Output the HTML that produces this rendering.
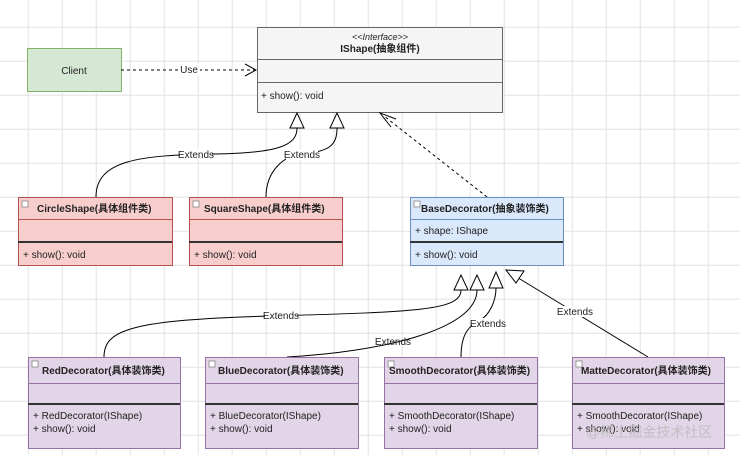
<!DOCTYPE html>
<html><head><meta charset="utf-8"><style>
html,body{margin:0;padding:0;background:#fff}
svg{display:block}
text{font-family:"Liberation Sans","Noto Sans CJK SC",sans-serif;font-size:10px;fill:#222}
.b{font-weight:bold}
</style></head><body>
<svg width="740" height="455" viewBox="0 0 740 455" xmlns="http://www.w3.org/2000/svg">
<defs>
<pattern id="g" x="27.7" y="26.7" width="34" height="34" patternUnits="userSpaceOnUse">
<path d="M0.5 0V34M0 0.5H34" stroke="#e2e2e2" stroke-width="1" fill="none"/>
</pattern>
</defs>
<rect width="740" height="455" fill="#fff"/>
<rect width="740" height="455" fill="url(#g)"/>

<!-- Client -->
<rect x="27.5" y="48.5" width="94" height="43" fill="#d5e8d4" stroke="#82b366"/>
<text x="74" y="74" text-anchor="middle">Client</text>
<line x1="121" y1="70" x2="255" y2="70" stroke="#000" stroke-dasharray="3,3"/>
<polyline points="245,64 256,70 245,76" fill="none" stroke="#000"/>
<rect x="178" y="64" width="22" height="11" fill="#fff"/>
<text x="189" y="73" text-anchor="middle">Use</text>

<!-- IShape -->
<rect x="257.5" y="27.5" width="245" height="85" fill="#f5f5f5" stroke="#666"/>
<text x="380" y="40" text-anchor="middle" font-style="italic" style="font-size:9px">&lt;&lt;Interface&gt;&gt;</text>
<text x="380" y="52" text-anchor="middle" class="b">IShape(抽象组件)</text>
<line x1="257" y1="59.5" x2="502" y2="59.5" stroke="#666"/>
<line x1="257" y1="82.5" x2="502" y2="82.5" stroke="#666"/>
<text x="261" y="99">+ show(): void</text>

<!-- connectors to IShape -->
<path d="M96 197 C96 160,140 155,215 154 C280 153,297 145,297 128" fill="none" stroke="#000"/>
<polygon points="297,113 290,128 304,128" fill="#fff" stroke="#000"/>
<path d="M266 197 C266 170,285 156,300 154 C330 152,337 145,337 128" fill="none" stroke="#000"/>
<polygon points="337,113 330,128 344,128" fill="#fff" stroke="#000"/>
<rect x="180" y="149" width="32" height="11" fill="#fff"/>
<text x="196" y="158" text-anchor="middle">Extends</text>
<rect x="286" y="149" width="32" height="11" fill="#fff"/>
<text x="302" y="158" text-anchor="middle">Extends</text>
<line x1="487" y1="197" x2="384" y2="116" stroke="#000" stroke-dasharray="3,3"/>
<polyline points="391,127 380,113 396,119" fill="none" stroke="#000"/>

<!-- CircleShape -->
<g>
<rect x="18.5" y="197.5" width="154" height="68" fill="#f8cecc" stroke="#b85450"/>
<rect x="22" y="201" width="6" height="6" fill="#fff" stroke="#888" stroke-width="0.8"/>
<text x="37" y="212" class="b">CircleShape(具体组件类)</text>
<line x1="18" y1="219.5" x2="172" y2="219.5" stroke="#b85450"/>
<line x1="18" y1="242" x2="172" y2="242" stroke="#333" stroke-width="2"/>
<text x="23" y="258">+ show(): void</text>
</g>
<g>
<rect x="189.5" y="197.5" width="153" height="68" fill="#f8cecc" stroke="#b85450"/>
<rect x="193" y="201" width="6" height="6" fill="#fff" stroke="#888" stroke-width="0.8"/>
<text x="204" y="212" class="b">SquareShape(具体组件类)</text>
<line x1="189" y1="219.5" x2="342" y2="219.5" stroke="#b85450"/>
<line x1="189" y1="242" x2="342" y2="242" stroke="#333" stroke-width="2"/>
<text x="194" y="258">+ show(): void</text>
</g>
<g>
<rect x="410.5" y="197.5" width="153" height="68" fill="#dae8fc" stroke="#6c8ebf"/>
<rect x="414" y="201" width="6" height="6" fill="#fff" stroke="#888" stroke-width="0.8"/>
<text x="421" y="212" class="b">BaseDecorator(抽象装饰类)</text>
<line x1="410" y1="219.5" x2="563" y2="219.5" stroke="#6c8ebf"/>
<text x="415" y="234">+ shape: IShape</text>
<line x1="410" y1="242" x2="563" y2="242" stroke="#333" stroke-width="2"/>
<text x="415" y="258">+ show(): void</text>
</g>

<!-- decorator connectors -->
<path d="M104 357 C104 330,130 320,270 316 C420 312,461 310,461 290" fill="none" stroke="#000"/>
<polygon points="461,275 454,290 468,290" fill="#fff" stroke="#000"/>
<path d="M287 357 C380 352,477 330,477 290" fill="none" stroke="#000"/>
<polygon points="477,275 470,290 484,290" fill="#fff" stroke="#000"/>
<path d="M461 357 C461 330,472 325,480 320 C490 315,496 300,496 288" fill="none" stroke="#000"/>
<polygon points="496,272 489,288 503,288" fill="#fff" stroke="#000"/>
<line x1="648" y1="357" x2="515" y2="276" stroke="#000"/>
<polygon points="506,270 524,271 516,283" fill="#fff" stroke="#000"/>
<rect x="265" y="310" width="32" height="11" fill="#fff"/>
<text x="281" y="319" text-anchor="middle">Extends</text>
<text x="393" y="345" text-anchor="middle">Extends</text>
<rect x="472" y="318" width="32" height="11" fill="#fff"/>
<text x="488" y="327" text-anchor="middle">Extends</text>
<rect x="559" y="306" width="32" height="11" fill="#fff"/>
<text x="575" y="315" text-anchor="middle">Extends</text>

<!-- decorators -->
<g>
<rect x="28.5" y="357.5" width="152" height="91" fill="#e1d5e7" stroke="#9673a6"/>
<rect x="32" y="361" width="6" height="6" fill="#fff" stroke="#888" stroke-width="0.8"/>
<text x="42" y="374" class="b">RedDecorator(具体装饰类)</text>
<line x1="28" y1="383.5" x2="180" y2="383.5" stroke="#9673a6"/>
<line x1="28" y1="404" x2="180" y2="404" stroke="#333" stroke-width="2"/>
<text x="33" y="419">+ RedDecorator(IShape)</text>
<text x="33" y="432">+ show(): void</text>
</g>
<g>
<rect x="205.5" y="357.5" width="153" height="91" fill="#e1d5e7" stroke="#9673a6"/>
<rect x="209" y="361" width="6" height="6" fill="#fff" stroke="#888" stroke-width="0.8"/>
<text x="218" y="374" class="b">BlueDecorator(具体装饰类)</text>
<line x1="205" y1="383.5" x2="358" y2="383.5" stroke="#9673a6"/>
<line x1="205" y1="404" x2="358" y2="404" stroke="#333" stroke-width="2"/>
<text x="210" y="419">+ BlueDecorator(IShape)</text>
<text x="210" y="432">+ show(): void</text>
</g>
<g>
<rect x="384.5" y="357.5" width="153" height="91" fill="#e1d5e7" stroke="#9673a6"/>
<rect x="388" y="361" width="6" height="6" fill="#fff" stroke="#888" stroke-width="0.8"/>
<text x="389" y="374" class="b">SmoothDecorator(具体装饰类)</text>
<line x1="384" y1="383.5" x2="537" y2="383.5" stroke="#9673a6"/>
<line x1="384" y1="404" x2="537" y2="404" stroke="#333" stroke-width="2"/>
<text x="389" y="419">+ SmoothDecorator(IShape)</text>
<text x="389" y="432">+ show(): void</text>
</g>
<g>
<rect x="572.5" y="357.5" width="152" height="91" fill="#e1d5e7" stroke="#9673a6"/>
<rect x="576" y="361" width="6" height="6" fill="#fff" stroke="#888" stroke-width="0.8"/>
<text x="581" y="374" class="b">MatteDecorator(具体装饰类)</text>
<line x1="572" y1="383.5" x2="724" y2="383.5" stroke="#9673a6"/>
<line x1="572" y1="404" x2="724" y2="404" stroke="#333" stroke-width="2"/>
<text x="577" y="419">+ SmoothDecorator(IShape)</text>
<text x="577" y="432">+ show(): void</text>
<text x="586" y="437" style="font-size:14px;fill:#bbb;opacity:0.85">@稀土掘金技术社区</text>
</g>
</svg>
</body></html>
